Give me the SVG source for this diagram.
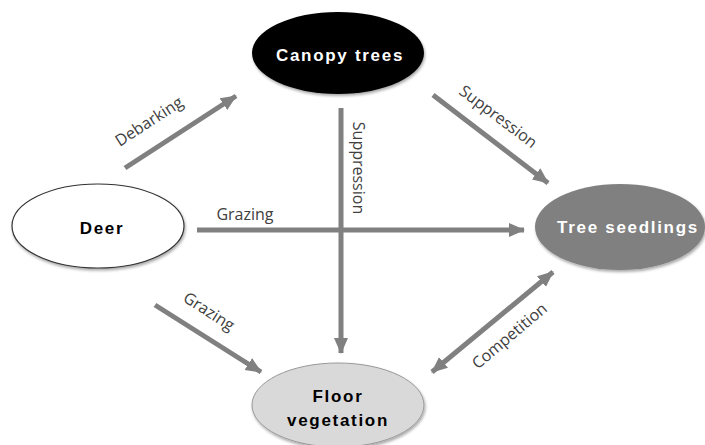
<svg xmlns="http://www.w3.org/2000/svg" width="705" height="445" viewBox="0 0 705 445">
<defs>
<filter id="sh" x="-20%" y="-20%" width="140%" height="140%">
<feGaussianBlur in="SourceAlpha" stdDeviation="1.5"/>
<feOffset dx="1" dy="2" result="b"/>
<feComponentTransfer><feFuncA type="linear" slope="0.35"/></feComponentTransfer>
<feMerge><feMergeNode/><feMergeNode in="SourceGraphic"/></feMerge>
</filter>
<marker id="ah" markerUnits="userSpaceOnUse" markerWidth="16" markerHeight="16" viewBox="0 0 16 16" refX="15" refY="8" orient="auto-start-reverse">
<path d="M0,1 L16,8 L0,15 Z" fill="#808080"/>
</marker>
<style>
.e{stroke:#808080;stroke-width:5;fill:none;marker-end:url(#ah)}
.lb{font-family:"Open Sans",sans-serif;font-size:16px;fill:#404040;text-anchor:middle}
.nt{font-family:"Liberation Sans",Arial,sans-serif;font-weight:bold;font-size:17px;text-anchor:middle;letter-spacing:1.7px}
</style>
</defs>
<rect width="705" height="445" fill="#fff"/>
<g id="connectors">
<line class="e" x1="125" y1="168" x2="236" y2="96"/>
<line class="e" x1="197" y1="230" x2="524" y2="230"/>
<line class="e" x1="341" y1="108" x2="341" y2="353"/>
<line class="e" x1="433" y1="95" x2="548" y2="183"/>
<line class="e" x1="155" y1="305" x2="261" y2="372"/>
<line class="e" x1="432" y1="372" x2="553" y2="272" style="marker-start:url(#ah)"/>
<text class="lb" transform="translate(152,126) rotate(-33)">Debarking</text>
<text class="lb" x="245" y="220">Grazing</text>
<text class="lb" transform="translate(353,168) rotate(90)">Suppression</text>
<text class="lb" transform="translate(495,121) rotate(37)">Suppression</text>
<text class="lb" transform="translate(206,316) rotate(33)">Grazing</text>
<text class="lb" transform="translate(513,340) rotate(-40)">Competition</text>
</g>
<g id="canopy">
<ellipse cx="338" cy="53" rx="86" ry="41" fill="#000" filter="url(#sh)"/>
<text class="nt" x="340" y="61" fill="#fff">Canopy trees</text>
</g>
<g id="deer">
<ellipse cx="98" cy="226" rx="86" ry="42" fill="#fff" stroke="#333" stroke-width="1.2" filter="url(#sh)"/>
<text class="nt" x="102" y="234" fill="#000">Deer</text>
</g>
<g id="seedlings">
<ellipse cx="620" cy="227" rx="85" ry="43" fill="#808080" filter="url(#sh)"/>
<text class="nt" x="628" y="233" fill="#fff">Tree seedlings</text>
</g>
<g id="floor">
<ellipse cx="338" cy="405" rx="86" ry="42" fill="#d9d9d9" stroke="#999" stroke-width="1" filter="url(#sh)"/>
<text class="nt" x="338" y="402" fill="#000">Floor</text>
<text class="nt" x="338" y="426" fill="#000">vegetation</text>
</g>
</svg>
